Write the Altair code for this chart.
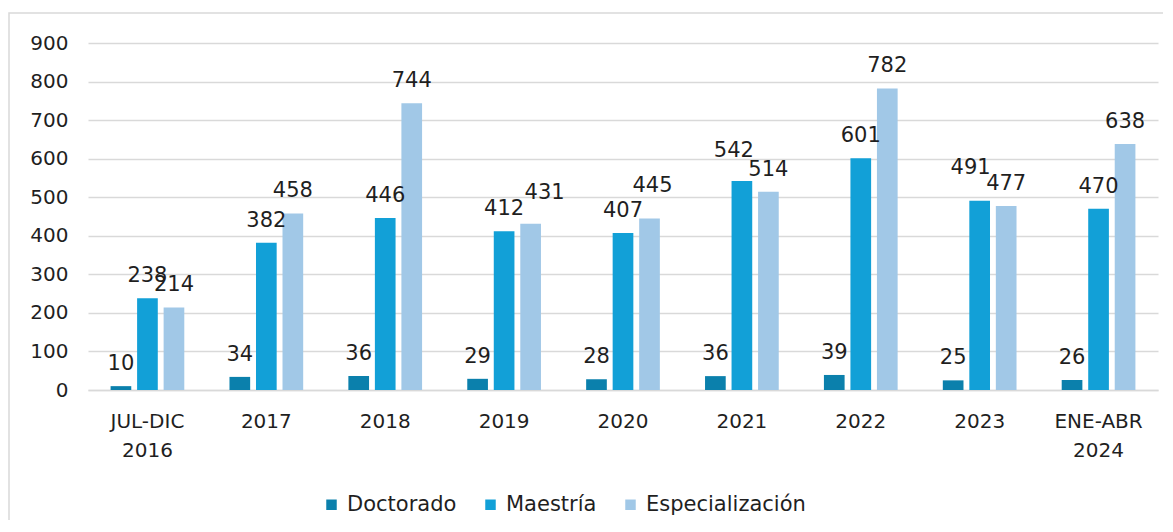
import altair as alt
import pandas as pd

categories = ["JUL-DIC 2016", "2017", "2018", "2019", "2020", "2021", "2022", "2023", "ENE-ABR 2024"]
series = ["Doctorado", "Maestría", "Especialización"]
doctorado = [10, 34, 36, 29, 28, 36, 39, 25, 26]
maestria = [238, 382, 446, 412, 407, 542, 601, 491, 470]
especializacion = [214, 458, 744, 431, 445, 514, 782, 477, 638]
colors = ["#0B80AC", "#12A0D7", "#A1C8E7"]
y_ticks = [0, 100, 200, 300, 400, 500, 600, 700, 800, 900]

# labels that were hand-moved in the original (pixel nudges dx, dy)
label_nudges = {
    ("2019", "Especialización"): (14, -9),
    ("2020", "Especialización"): (3, -10),
    ("2021", "Maestría"): (-8, -8),
    ("2023", "Maestría"): (-9, -11),
}

rows = []
for name, vals in zip(series, [doctorado, maestria, especializacion]):
    for c, v in zip(categories, vals):
        rows.append({"cat": c, "serie": name, "value": v,
                     "moved": (c, name) in label_nudges})
df = pd.DataFrame(rows)

FONT = "DejaVu Sans"
TXT = "#1f1f1f"

x_enc = alt.X(
    "cat:N",
    sort=categories,
    title=None,
    scale=alt.Scale(paddingInner=0.38, paddingOuter=0.19),
    axis=alt.Axis(
        labelExpr="split(datum.label, ' ')",
        labelAngle=0,
        labelFontSize=20,
        labelFont=FONT,
        labelColor=TXT,
        labelPadding=21,
        labelLineHeight=29,
        ticks=False,
        domainColor="#d9d9d9",
        domainWidth=1.5,
        grid=False,
    ),
)
xoff = alt.XOffset("serie:N", sort=series, scale=alt.Scale(paddingInner=0.22, paddingOuter=0))
y_enc = alt.Y(
    "value:Q",
    title=None,
    scale=alt.Scale(domain=[0, 900], nice=False),
    axis=alt.Axis(
        values=y_ticks,
        labelOverlap=False,
        labelFontSize=20,
        labelFont=FONT,
        labelColor=TXT,
        labelPadding=20,
        ticks=False,
        domain=False,
        grid=True,
        gridColor="#d9d9d9",
        gridWidth=1.3,
    ),
)

base = alt.Chart(df)

bars = base.mark_bar().encode(
    x=x_enc,
    xOffset=xoff,
    y=y_enc,
    color=alt.Color(
        "serie:N",
        sort=series,
        scale=alt.Scale(domain=series, range=colors),
        legend=alt.Legend(
            orient="none",
            legendX=233,
            legendY=451,
            direction="horizontal",
            title=None,
            symbolType="square",
            symbolSize=110,
            symbolStrokeWidth=0,
            labelFontSize=21,
            labelFont=FONT,
            labelColor=TXT,
            labelOffset=5,
            columnPadding=23,
        ),
    ),
)

text_enc = dict(x=x_enc, xOffset=xoff, y=y_enc, text="value:Q")

labels = base.transform_filter("!datum.moved").mark_text(
    baseline="alphabetic", dy=-16, fontSize=21, font=FONT, color=TXT
).encode(**text_enc)

moved_layers = []
for (c, s), (ddx, ddy) in label_nudges.items():
    moved_layers.append(
        base.transform_filter((alt.datum.cat == c) & (alt.datum.serie == s))
        .mark_text(baseline="alphabetic", dx=ddx, dy=-16 + ddy,
                   fontSize=21, font=FONT, color=TXT)
        .encode(**text_enc)
    )

border = alt.Chart(alt.Data(values=[{}])).mark_rect(
    fill=None, stroke="#d9d9d9", strokeWidth=1.5
).encode(
    x=alt.value(-79), x2=alt.value(1082), y=alt.value(-30), y2=alt.value(492)
)

chart = alt.layer(border, bars, labels, *moved_layers).properties(
    width=1070,
    height=347,
    autosize=alt.AutoSizeParams(type="none"),
    padding={"left": 80, "top": 35, "right": 5, "bottom": 130},
).configure(background="white", view=alt.ViewConfig(stroke=None))

chart.save("out.html", embed_options={"renderer": "svg", "actions": False})
